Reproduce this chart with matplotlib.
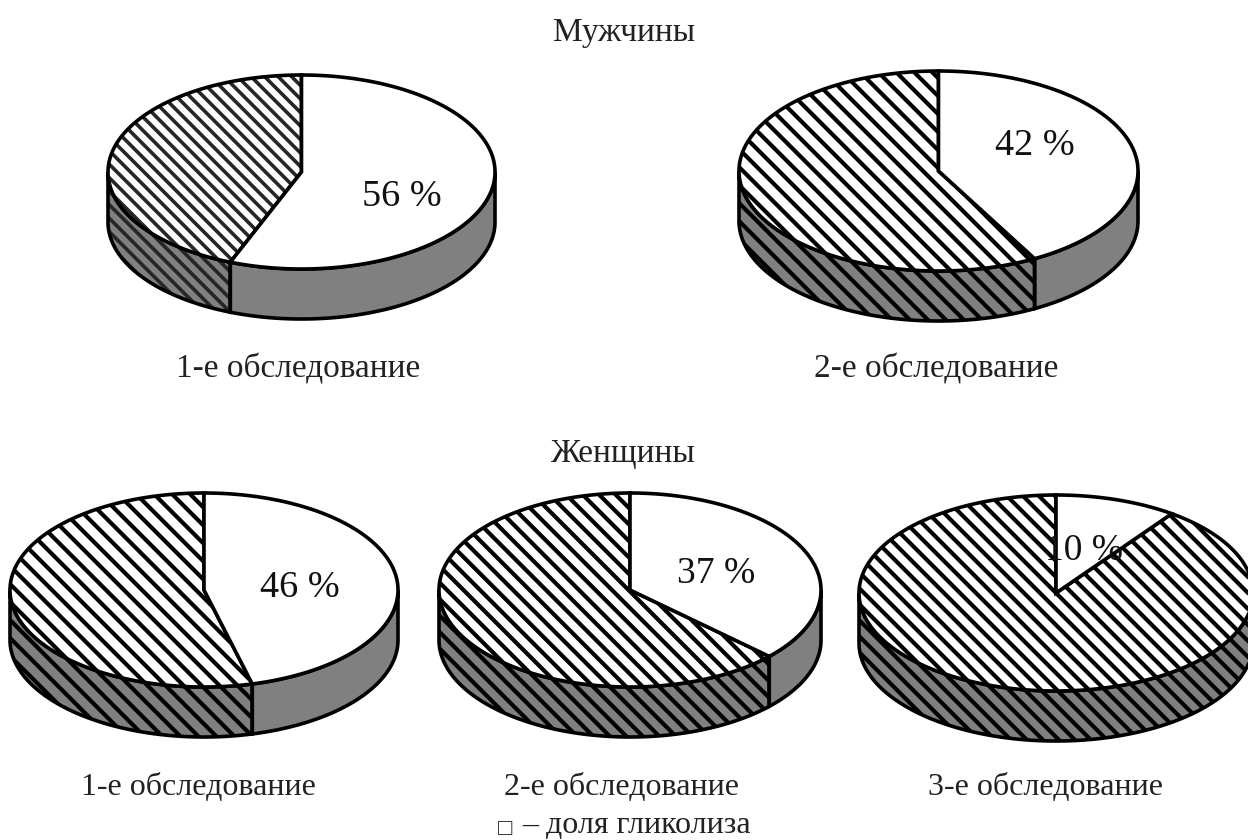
import numpy as np
import matplotlib.pyplot as plt
from matplotlib.patches import Polygon, Rectangle
from matplotlib.collections import LineCollection

plt.rcParams['font.family'] = ['Liberation Serif', 'DejaVu Sans']

# Share of glycolysis, percent
glycolysis = [56, 42, 46, 37, 10]
captions = ['1-е обследование', '2-е обследование', '1-е обследование',
            '2-е обследование', '3-е обследование']
groups = ['Мужчины', 'Женщины']
legend_box = '□'
legend_text = '– доля гликолиза'

# Pie layout in pixels
cx = [301.5, 938.5, 204, 630, 1056]
cy = [172, 171, 590, 590, 593]
ax_a = [193.5, 199.5, 194, 191, 197]
ax_b = [97, 100, 97, 97, 98]
thick = 50
label_x = [402, 1034.5, 300, 716, 1084]
label_y = [206, 155, 597, 583, 560]
caption_x = [298, 936, 198, 621, 1046]
caption_y = [378, 378, 795, 795, 795]
caption_size = [24, 24, 23, 23, 23]
label_size = [27.5, 27.5, 27.5, 27, 27]
# hatch pitch (px along y), phase, width (pt) and colour for each pie
pitch = [13.5, 18, 18, 16.5, 16]
phase = [-188, -824, 340, -121, -543]
hatch_lw = [2.6, 3.0, 3.0, 3.0, 3.0]
hatch_col = ['#262626', 'black', 'black', 'black', 'black']

fig = plt.figure(figsize=(12.48, 8.4), dpi=100)
ax = fig.add_axes([0, 0, 1, 1])
ax.set_xlim(0, 1248)
ax.set_ylim(840, 0)
ax.axis('off')

OUT = 2.6


def rim(i, t0, t1, dy=0.0):
    # points on the ellipse, angle in degrees clockwise from the top
    t = np.radians(np.linspace(t0, t1, 200))
    return np.column_stack([cx[i] + ax_a[i] * np.sin(t),
                            cy[i] - ax_b[i] * np.cos(t) + dy])


def hatch(i, patch, z):
    # diagonal lines clipped to the given patch
    top = cy[i] - ax_b[i] - 10
    bottom = cy[i] + ax_b[i] + thick + 10
    left = cx[i] - ax_a[i] - 10
    right = cx[i] + ax_a[i] + 10
    first = phase[i] + pitch[i] * np.ceil((top - right - phase[i]) / pitch[i])
    offs = np.arange(first, bottom - left, pitch[i])
    segs = [[(left, left + c), (right, right + c)] for c in offs]
    lc = LineCollection(segs, colors=hatch_col[i], linewidths=hatch_lw[i], zorder=z)
    ax.add_collection(lc)
    lc.set_clip_path(patch)


def side(i, t0, t1, hatched):
    if t1 <= t0:
        return
    pts = np.vstack([rim(i, t0, t1), rim(i, t1, t0, thick)])
    fill = Polygon(pts, closed=True, fc='#808080', ec='none', zorder=2)
    ax.add_patch(fill)
    if hatched:
        hatch(i, fill, 3)
    ax.add_patch(Polygon(pts, closed=True, fc='none', ec='black', lw=OUT, zorder=4))


for i, val in enumerate(glycolysis):
    end = val * 3.6
    centre = [[cx[i], cy[i]]]
    # rim of the disc: only the front half is visible
    side(i, 90, min(end, 270) if end > 90 else 90, False)
    side(i, max(end, 90), 270, True)

    other = Polygon(np.vstack([centre, rim(i, end, 360)]), closed=True,
                    fc='white', ec='none', zorder=5)
    ax.add_patch(other)
    hatch(i, other, 6)
    ax.add_patch(Polygon(np.vstack([centre, rim(i, end, 360)]), closed=True,
                         fc='none', ec='black', lw=OUT, zorder=7))
    ax.add_patch(Polygon(np.vstack([centre, rim(i, 0, end)]), closed=True,
                         fc='white', ec='black', lw=OUT, zorder=7))

    txt = ax.text(label_x[i], label_y[i], f'{val} %', fontsize=label_size[i],
                  ha='center', va='baseline', color='#111111', zorder=8)
    if val == 10:
        # the leading digit sits under the hatched sector
        txt.set_clip_path(Rectangle((cx[i] - 3, 0), 300, 840, transform=ax.transData))
    ax.text(caption_x[i], caption_y[i], captions[i], fontsize=caption_size[i],
            ha='center', va='baseline', color='#222222')

ax.text(624, 41, groups[0], fontsize=24, ha='center', va='baseline', color='#222222')
ax.text(623, 462, groups[1], fontsize=24, ha='center', va='baseline', color='#222222')
ax.text(505.5, 835, legend_box, fontsize=17, ha='center', va='baseline', color='#222222')
ax.text(636.5, 833, legend_text, fontsize=23, ha='center', va='baseline', color='#222222')

fig.savefig('out.png', dpi=100)
